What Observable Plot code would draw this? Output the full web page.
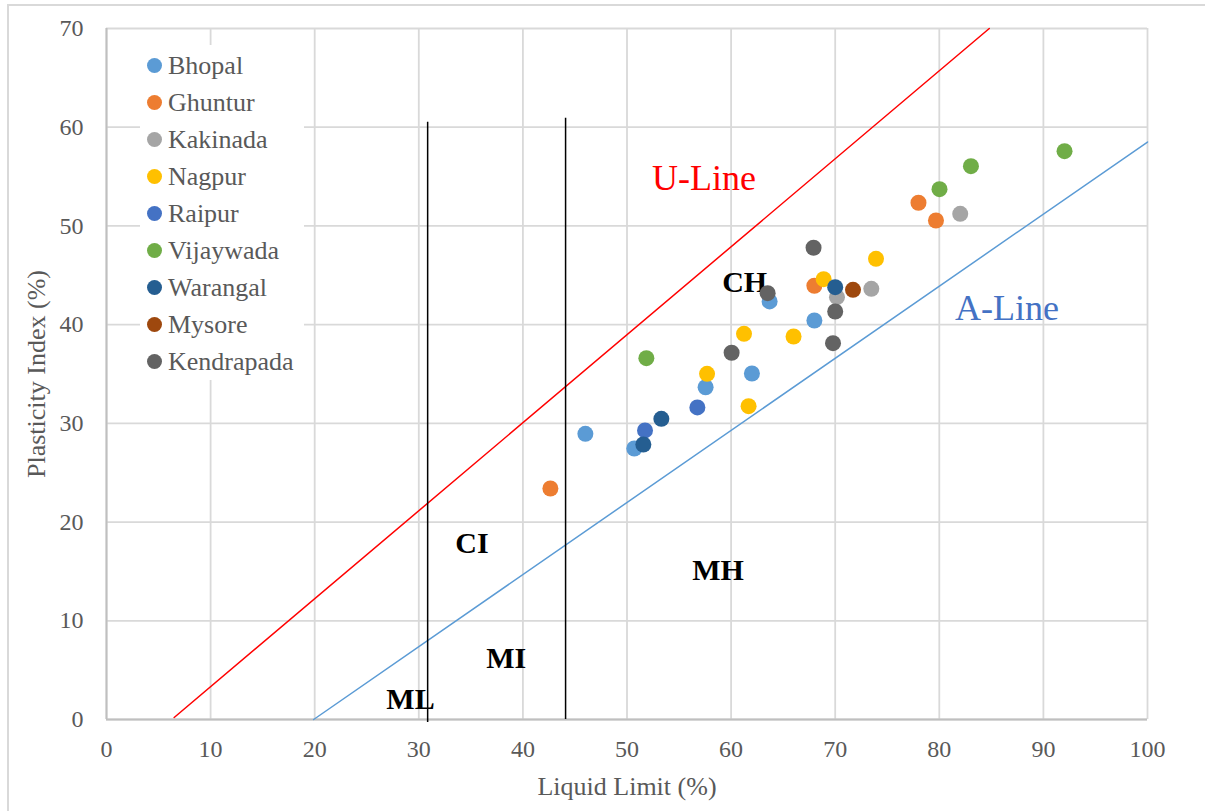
<!DOCTYPE html>
<html>
<head>
<meta charset="utf-8">
<script src="https://cdn.jsdelivr.net/npm/d3@7"></script>
<script src="https://cdn.jsdelivr.net/npm/@observablehq/plot@0.6"></script>
<style>
  html, body { margin: 0; padding: 0; background: #fff; overflow: hidden; }
  #wrap { position: relative; width: 1205px; height: 811px; }
  #border { position: absolute; left: 7px; top: 4px; width: 1300px; height: 900px; border-left: 2px solid #D9D9D9; border-top: 2px solid #D9D9D9; box-sizing: border-box; pointer-events: none; }
  #legend { position: absolute; left: 140px; top: 45px; width: 164px; height: 335px; background: #fff; font-family: "Liberation Serif", "Times New Roman", serif; font-size: 26px; color: #595959; }
  .row { position: absolute; left: 0; height: 37px; display: flex; align-items: center; white-space: nowrap; }
  .sw { width: 15px; height: 15px; border-radius: 50%; margin-left: 7px; margin-right: 6px; flex: none; }
</style>
</head>
<body>
<div id="wrap"><div id="chart"></div><div id="border"></div><div id="legend"></div></div>
<script>
// ---- Data ----
const cities = ["Bhopal", "Ghuntur", "Kakinada", "Nagpur", "Raipur", "Vijaywada", "Warangal", "Mysore", "Kendrapada"];
const cityColors = ["#5B9BD5", "#ED7D31", "#A5A5A5", "#FFC000", "#4472C4", "#70AD47", "#255E91", "#9E480E", "#636363"];
const liquidLimit = [
  [46.0, 50.7, 57.55, 62.0, 63.7, 68.0],
  [42.64, 68.0, 78.0, 79.68],
  [70.17, 73.47, 82.01],
  [57.69, 61.24, 61.68, 66.0, 68.89, 73.92],
  [51.73, 56.76],
  [51.86, 80.02, 83.04, 92.03],
  [51.57, 53.3, 70.0],
  [71.71],
  [60.05, 63.51, 67.92, 69.79, 70.0]
];
const plasticityIndex = [
  [28.94, 27.45, 33.66, 35.05, 42.35, 40.42],
  [23.4, 43.94, 52.35, 50.55],
  [42.78, 43.63, 51.23],
  [35.02, 39.07, 31.74, 38.8, 44.61, 46.67],
  [29.28, 31.61],
  [36.6, 53.72, 56.05, 57.57],
  [27.86, 30.46, 43.8],
  [43.53],
  [37.15, 43.19, 47.79, 38.12, 41.33]
];
const xTicks = [0, 10, 20, 30, 40, 50, 60, 70, 80, 90, 100];
const yTicks = [0, 10, 20, 30, 40, 50, 60, 70];

const uLineLL = [6.5, 84.8];
const uLinePI = [0.2, 70];
const aLineLL = [19.9, 100];
const aLinePI = [0, 58.5];

const boundaryLL = [30.85, 44.1];
const boundaryBottom = [-0.3, 0];
const boundaryTop = [60.5, 60.9];

const zoneNames = ["CH", "CI", "MH", "MI", "ML"];
const zoneLL = [61.3, 35.1, 58.75, 38.4, 29.2];
const zonePI = [44.3, 17.8, 15.1, 6.23, 2.0];

const lineNames = ["U-Line", "A-Line"];
const lineNameLL = [57.4, 86.5];
const lineNamePI = [54.8, 41.6];
const lineNameColors = ["#FF0000", "#4472C4"];

// ---- Build tables ----
const points = cities.flatMap((c, i) => liquidLimit[i].map((ll, j) => ({city: c, color: cityColors[i], ll, pi: plasticityIndex[i][j]})));
const uLine = uLineLL.map((x, i) => ({x, y: uLinePI[i]}));
const aLine = aLineLL.map((x, i) => ({x, y: aLinePI[i]}));
const bounds = boundaryLL.map((x, i) => ({x, y1: boundaryBottom[i], y2: boundaryTop[i]}));
const zones = zoneNames.map((t, i) => ({t, x: zoneLL[i], y: zonePI[i]}));
const lineLabels = lineNames.map((t, i) => ({t, x: lineNameLL[i], y: lineNamePI[i], c: lineNameColors[i]}));

const chart = Plot.plot({
  width: 1205,
  height: 811,
  marginLeft: 106,
  marginRight: 58,
  marginTop: 28,
  marginBottom: 92,
  style: {fontFamily: "'Liberation Serif', 'Times New Roman', serif", background: "white", overflow: "visible"},
  x: {domain: [0, 100]},
  y: {domain: [0, 70]},
  marks: [
    Plot.gridX(xTicks, {stroke: "#D9D9D9", strokeOpacity: 1, strokeWidth: 1.8}),
    Plot.gridY(yTicks, {stroke: "#D9D9D9", strokeOpacity: 1, strokeWidth: 1.8}),
    Plot.ruleX([0], {stroke: "#BFBFBF", strokeWidth: 2}),
    Plot.ruleY([0], {stroke: "#BFBFBF", strokeWidth: 2}),
    Plot.axisX(xTicks, {tickSize: 0, tickPadding: 20, fontSize: 24, fill: "#595959", label: null}),
    Plot.axisY(yTicks, {tickSize: 0, tickPadding: 23, fontSize: 24, fill: "#595959", label: null}),
    Plot.text(["Liquid Limit (%)"], {frameAnchor: "bottom", textAnchor: "middle", lineAnchor: "middle", dy: 67, fontSize: 26, fill: "#595959"}),
    Plot.text(["Plasticity Index (%)"], {frameAnchor: "left", textAnchor: "middle", lineAnchor: "middle", dx: -70, rotate: -90, fontSize: 26, fill: "#595959"}),
    Plot.line(uLine, {x: "x", y: "y", stroke: "#FF0000", strokeWidth: 1.5}),
    Plot.line(aLine, {x: "x", y: "y", stroke: "#5B9BD5", strokeWidth: 1.5}),
    Plot.ruleX(bounds, {x: "x", y1: "y1", y2: "y2", stroke: "#000", strokeWidth: 1.5}),
    Plot.text(lineLabels, {x: "x", y: "y", text: "t", fill: "c", fontSize: 36}),
    Plot.text(zones, {x: "x", y: "y", text: "t", fill: "#000", fontSize: 30, fontWeight: "bold"}),
    Plot.dot(points, {x: "ll", y: "pi", fill: "color", r: 8})
  ]
});
document.getElementById("chart").appendChild(chart);

// ---- Legend ----
const legend = document.getElementById("legend");
cities.forEach((c, i) => {
  const row = document.createElement("div");
  row.className = "row";
  row.style.top = (2.2 + 37 * i) + "px";
  const sw = document.createElement("span");
  sw.className = "sw";
  sw.style.background = cityColors[i];
  const tx = document.createElement("span");
  tx.textContent = c;
  row.appendChild(sw);
  row.appendChild(tx);
  legend.appendChild(row);
});
</script>
</body>
</html>
